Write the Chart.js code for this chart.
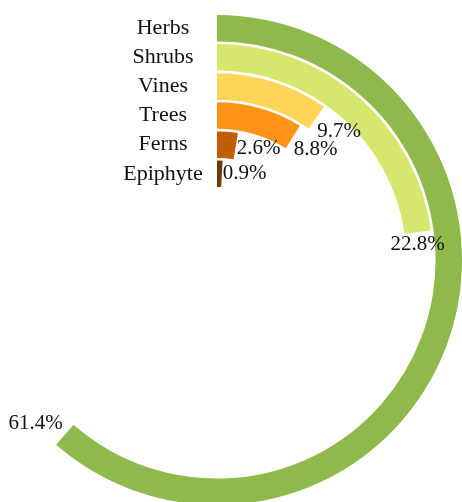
<!DOCTYPE html>
<html>
<head>
<meta charset="utf-8">
<title>Growth forms</title>
<script src="https://cdn.jsdelivr.net/npm/chart.js@4/dist/chart.umd.min.js"></script>
<style>
  html, body { margin: 0; padding: 0; background: #ffffff; overflow: hidden; }
  #wrap { width: 462px; height: 502px; }
</style>
</head>
<body>
<div id="wrap"><canvas id="chart" width="462" height="502"></canvas></div>
<script>
// Share of species by growth form (percent of the full circle)
const categories = ['Herbs', 'Shrubs', 'Vines', 'Trees', 'Ferns', 'Epiphyte'];
const shares = [61.4, 22.8, 9.7, 8.8, 2.6, 0.9];
const colors = ['#8FBA4B', '#D7E66C', '#FFD65B', '#FF9418', '#C25E00', '#6A3C0C'];

// where each percentage label sits relative to the end of its ring
const valueLabelPlacement = [
  { align: 'right', dx: -2, dy: -11 },
  { align: 'center', dx: 0, dy: 12 },
  { align: 'left', dx: 1, dy: 14 },
  { align: 'left', dx: 1, dy: 12 },
  { align: 'left', dx: 1, dy: 2 },
  { align: 'left', dx: 1, dy: 0 }
];

const GAP_WEIGHT = 0.1;
const datasets = [];
const ringIndex = [];
categories.forEach((name, i) => {
  if (i > 0) {
    datasets.push({
      label: 'gap',
      data: [1],
      backgroundColor: ['rgba(0,0,0,0)'],
      borderWidth: 0,
      weight: GAP_WEIGHT
    });
  }
  ringIndex.push(datasets.length);
  datasets.push({
    label: name,
    data: [shares[i], 100 - shares[i]],
    backgroundColor: [colors[i], 'rgba(0,0,0,0)'],
    borderWidth: 0,
    weight: 1
  });
});

const ringLabels = {
  id: 'ringLabels',
  afterDatasetsDraw(chart) {
    const ctx = chart.ctx;
    ctx.save();
    ctx.fillStyle = '#111111';
    ctx.textBaseline = 'middle';
    categories.forEach((name, i) => {
      const arc = chart.getDatasetMeta(ringIndex[i]).data[0];
      const { x, y, endAngle, innerRadius, outerRadius } = arc;
      const rm = (innerRadius + outerRadius) / 2;

      // category name to the left of the ring start
      ctx.font = '22px "Liberation Serif", "Times New Roman", serif';
      ctx.textAlign = 'center';
      ctx.fillText(name, x - 54, y - rm);

      // percentage at the end of the ring
      const p = valueLabelPlacement[i];
      const px = x + Math.cos(endAngle) * rm + p.dx;
      const py = y + Math.sin(endAngle) * rm + p.dy;
      ctx.font = '21px "Liberation Serif", "Times New Roman", serif';
      ctx.textAlign = p.align;
      ctx.fillText(shares[i].toFixed(1) + '%', px, py);
    });
    ctx.restore();
  }
};

new Chart(document.getElementById('chart'), {
  type: 'doughnut',
  data: { labels: ['value', 'rest'], datasets },
  options: {
    responsive: false,
    animation: false,
    events: [],
    radius: 245,
    cutout: '29.8%',
    rotation: 0,
    circumference: 360,
    layout: { padding: { left: 0, right: 28, top: 18, bottom: 0 } },
    plugins: {
      legend: { display: false },
      tooltip: { enabled: false }
    }
  },
  plugins: [ringLabels]
});
</script>
</body>
</html>
